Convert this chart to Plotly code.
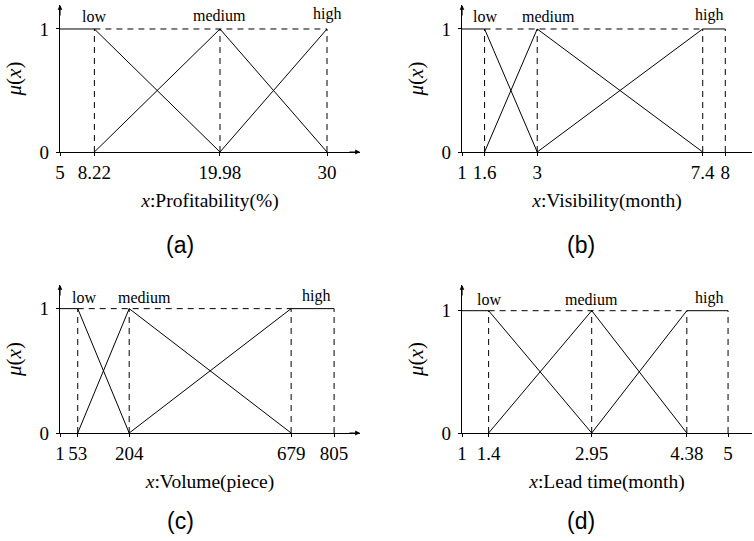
import plotly.graph_objects as go

# ---------------- data ----------------
prof_ticks = [5, 8.22, 19.98, 30]
prof_low = [[5, 8.22, 19.98], [1, 1, 0]]
prof_med = [[8.22, 19.98, 30], [0, 1, 0]]
prof_high = [[19.98, 30], [0, 1]]

vis_ticks = [1, 1.6, 3, 7.4, 8]
vis_low = [[1, 1.6, 3], [1, 1, 0]]
vis_med = [[1.6, 3, 7.4], [0, 1, 0]]
vis_high = [[3, 7.4, 8], [0, 1, 1]]

vol_ticks = [1, 53, 204, 679, 805]
vol_low = [[1, 53, 204], [1, 1, 0]]
vol_med = [[53, 204, 679], [0, 1, 0]]
vol_high = [[204, 679, 805], [0, 1, 1]]

lead_ticks = [1, 1.4, 2.95, 4.38, 5]
lead_low = [[1, 1.4, 2.95], [1, 1, 0]]
lead_med = [[1.4, 2.95, 4.38], [0, 1, 0]]
lead_high = [[2.95, 4.38, 5], [0, 1, 1]]

labels = ["low", "medium", "high"]
x_titles = ["<i>x</i>:Profitability(%)", "<i>x</i>:Visibility(month)",
            "<i>x</i>:Volume(piece)", "<i>x</i>:Lead time(month)"]
captions = ["(a)", "(b)", "(c)", "(d)"]

W, H = 754, 541
SERIF = "Liberation Serif"

panels = [
    dict(ticks=prof_ticks, mfs=[prof_low, prof_med, prof_high],
         xpx=(60, 360), ypx=(152, 5), xr=(5, 33.09), ytop=1.195,
         lab_x=[8.22, 19.98, 30], lab_y=[1.10, 1.11, 1.12], arrow_x=True,
         cap=(180, 245)),
    dict(ticks=vis_ticks, mfs=[vis_low, vis_med, vis_high],
         xpx=(462, 752), ypx=(152, 5), xr=(1, 8.71), ytop=1.195,
         lab_x=[1.6, 3.29, 7.57], lab_y=[1.10, 1.10, 1.11], arrow_x=False,
         cap=(581, 245)),
    dict(ticks=vol_ticks, mfs=[vol_low, vol_med, vol_high],
         xpx=(60, 360), ypx=(433, 285), xr=(1, 881), ytop=1.19,
         lab_x=[71, 250, 752], lab_y=[1.09, 1.09, 1.10], arrow_x=True,
         cap=(180, 521)),
    dict(ticks=lead_ticks, mfs=[lead_low, lead_med, lead_high],
         xpx=(462, 752), ypx=(433, 285), xr=(1, 5.36), ytop=1.21,
         lab_x=[1.4, 2.95, 4.71], lab_y=[1.09, 1.09, 1.10], arrow_x=False,
         cap=(581, 521)),
]

fig = go.Figure()
annotations = []
layout = {}

for i, p in enumerate(panels):
    n = "" if i == 0 else str(i + 1)
    xa, ya = "x" + n, "y" + n
    ticks = p["ticks"]
    low, med, high = p["mfs"]

    # membership functions (solid)
    for mf in p["mfs"]:
        fig.add_trace(go.Scatter(x=mf[0], y=mf[1], mode="lines",
                                 line=dict(color="black", width=1),
                                 xaxis=xa, yaxis=ya, showlegend=False,
                                 hoverinfo="skip"))
    # dashed guides: verticals at breakpoints, horizontal at mu=1
    gx, gy = [], []
    for t in ticks[1:]:
        gx += [t, t, None]
        gy += [0, 1, None]
    gx += [low[0][1], high[0][1]]
    gy += [1, 1]
    fig.add_trace(go.Scatter(x=gx, y=gy, mode="lines",
                             line=dict(color="black", width=1, dash="6px,5px"),
                             xaxis=xa, yaxis=ya, showlegend=False,
                             hoverinfo="skip"))

    x0, x1 = p["xpx"]
    yb, yt = p["ypx"]
    layout["xaxis" + n] = dict(
        domain=[x0 / W, x1 / W], range=list(p["xr"]), anchor=ya,
        automargin=False,
        showline=True, linecolor="black", linewidth=1.2,
        showgrid=False, zeroline=False,
        tickmode="array", tickvals=ticks, ticktext=[str(t) for t in ticks],
        ticks="outside", ticklen=3, tickcolor="black", tickwidth=1,
        tickfont=dict(family=SERIF, size=19, color="black"),
        title=dict(text=x_titles[i], font=dict(family=SERIF, size=19.5, color="black"),
                   standoff=11),
    )
    layout["yaxis" + n] = dict(
        domain=[1 - yb / H, 1 - yt / H], range=[0, p["ytop"]], anchor=xa,
        automargin=False,
        showline=True, linecolor="black", linewidth=1.2,
        showgrid=False, zeroline=False,
        tickmode="array", tickvals=[0, 1], ticktext=["0", "1"],
        ticks="outside", ticklen=3, tickcolor="black", tickwidth=1,
        ticklabelstandoff=3,
        tickfont=dict(family=SERIF, size=19, color="black"),
        title=dict(text="<i>μ</i>(<i>x</i>)", font=dict(family=SERIF, size=21, color="black"),
                   standoff=12),
    )

    # mf labels
    for lab, lx, ly in zip(labels, p["lab_x"], p["lab_y"]):
        annotations.append(dict(x=lx, y=ly, xref=xa, yref=ya, text=lab,
                                showarrow=False, xanchor="center", yanchor="middle",
                                font=dict(family=SERIF, size=16, color="black")))
    # arrow heads
    xl = p["xr"][0]
    annotations.append(dict(x=xl, y=p["ytop"], xref=xa, yref=ya,
                            ax=0, ay=12, axref="pixel", ayref="pixel",
                            showarrow=True, arrowhead=2, arrowsize=0.8,
                            arrowwidth=1.2, arrowcolor="black", text=""))
    if p["arrow_x"]:
        annotations.append(dict(x=p["xr"][1], y=0, xref=xa, yref=ya,
                                ax=-12, ay=0, axref="pixel", ayref="pixel",
                                showarrow=True, arrowhead=2, arrowsize=0.8,
                                arrowwidth=1.2, arrowcolor="black", text=""))
    # caption
    cx, cy = p["cap"]
    annotations.append(dict(x=cx / W, y=1 - cy / H, xref="paper", yref="paper",
                            text=captions[i], showarrow=False,
                            xanchor="center", yanchor="middle",
                            font=dict(family="Liberation Sans", size=23, color="black")))

fig.update_layout(
    width=W, height=H, margin=dict(l=0, r=0, t=0, b=0),
    paper_bgcolor="white", plot_bgcolor="white",
    annotations=annotations, **layout,
)

fig.write_html("out.html", config={"displayModeBar": False},
               post_script="document.body.style.margin='0';document.body.style.overflow='hidden';")
